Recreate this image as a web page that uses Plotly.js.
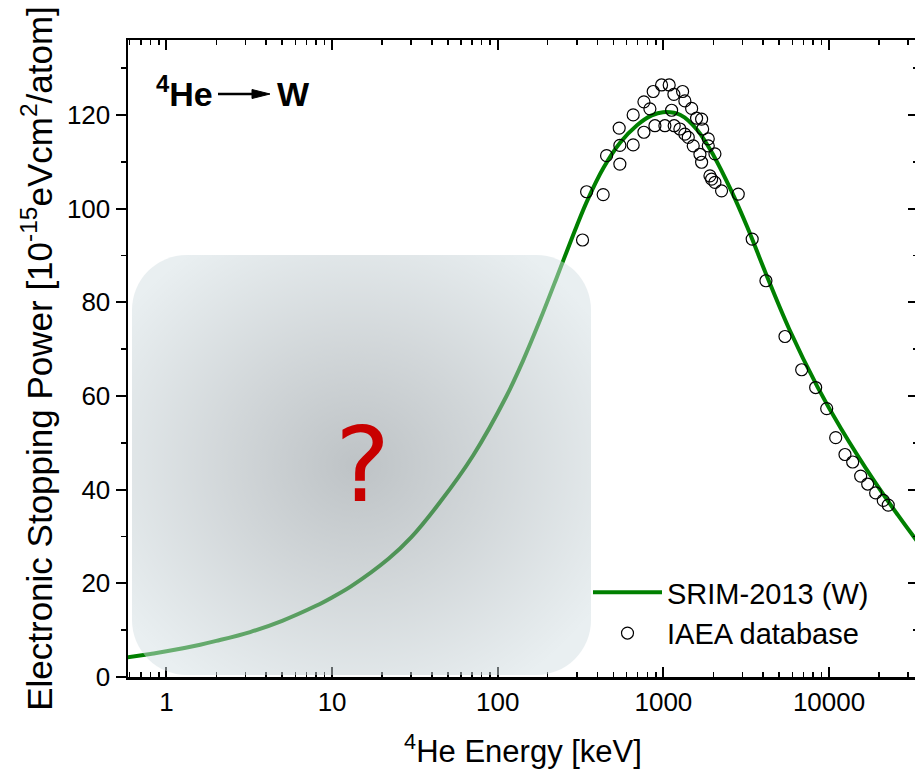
<!DOCTYPE html>
<html>
<head>
<meta charset="utf-8">
<script src="https://cdn.plot.ly/plotly-3.0.1.min.js"></script>
<style>
html,body{margin:0;padding:0;overflow:hidden;background:#fff;}
#chart{width:925px;height:769px;}
</style>
</head>
<body>
<div id="chart"></div>
<script>
// SRIM-2013 (W) electronic stopping curve
const srimEnergy = [0.58, 0.8, 1, 1.6, 2, 3.2, 5, 8, 10, 13, 22, 30, 45, 71, 113, 142, 180, 226, 260, 299, 345, 435, 549, 693, 850, 995, 1268, 1601, 2019, 2547, 3213, 4159, 5745, 8530, 11830, 18760, 26000, 36000];
const srimStopping = [4.2, 4.93, 5.48, 6.9, 7.7, 9.6, 12.0, 15.2, 17.0, 19.35, 25.3, 29.8, 37.4, 47.3, 60.0, 67.5, 76.2, 85.1, 90.7, 96.2, 101.5, 108.7, 114.1, 117.8, 119.9, 120.6, 120.0, 116.8, 111.2, 104.1, 96.0, 86.1, 74.3, 61.9, 53.0, 41.8, 34.6, 27.8];

// IAEA database points
const iaeaEnergy = [325, 344, 433, 454, 541, 546, 546, 657, 657, 763, 763, 829, 868, 889, 975, 1021, 1084, 1121, 1157, 1162, 1258, 1306, 1348, 1348, 1413, 1481, 1514, 1586, 1662, 1701, 1701, 1726, 1866, 1866, 1910, 1955, 2047, 2047, 2245, 2831, 3436, 4159, 5420, 6836, 8302, 9680, 10970, 12480, 13890, 15520, 17110, 19110, 21250, 22770];
const iaeaStopping = [93.3, 103.6, 103.0, 111.3, 117.2, 113.5, 109.5, 120.0, 113.6, 116.3, 122.8, 121.3, 125.0, 117.7, 126.4, 117.7, 126.4, 121.0, 124.4, 117.7, 117.0, 125.0, 123.0, 115.9, 115.2, 121.4, 113.4, 119.3, 111.6, 119.1, 109.9, 117.0, 114.9, 113.4, 107.0, 106.3, 111.7, 105.6, 103.8, 103.1, 93.5, 84.6, 72.7, 65.6, 61.8, 57.3, 51.1, 47.5, 45.9, 42.9, 41.2, 39.3, 37.7, 36.7];

// axis ticks
const xTickVals = [1, 10, 100, 1000, 10000];
const xTickText = ['1', '10', '100', '1000', '10000'];
const xMinorVals = [0.6, 0.7, 0.8, 0.9, 2, 3, 4, 5, 6, 7, 8, 9, 20, 30, 40, 50, 60, 70, 80, 90, 200, 300, 400, 500, 600, 700, 800, 900, 2000, 3000, 4000, 5000, 6000, 7000, 8000, 9000, 20000, 30000];
const seriesNames = ['SRIM-2013 (W)', 'IAEA database'];

const FONT = 'Arial, "Liberation Sans", sans-serif';
const PL = 128, PR = 918, PT = 40, PB = 677;
const px = v => (v - PL) / (PR - PL);
const py = v => (PB - v) / (PB - PT);

const overlaySvg =
  '<svg xmlns="http://www.w3.org/2000/svg" width="460" height="420" viewBox="0 0 460 420">' +
  '<defs><radialGradient id="g" cx="0.49" cy="0.5" r="0.62">' +
  '<stop offset="0" stop-color="rgb(126,136,142)"/>' +
  '<stop offset="0.45" stop-color="rgb(165,175,180)"/>' +
  '<stop offset="1" stop-color="rgb(212,224,228)"/>' +
  '</radialGradient></defs>' +
  '<rect x="0" y="0" width="460" height="420" rx="55" ry="55" fill="url(#g)"/></svg>';

const traces = [
  {
    x: srimEnergy, y: srimStopping, type: 'scatter', mode: 'lines',
    name: seriesNames[0],
    line: {color: '#008000', width: 4, shape: 'spline', smoothing: 1}
  },
  {
    x: iaeaEnergy, y: iaeaStopping, type: 'scatter', mode: 'markers',
    name: seriesNames[1],
    marker: {symbol: 'circle-open', size: 12, color: '#000', line: {width: 1.2, color: '#000'}}
  },
  {
    x: [], y: [], type: 'scatter', yaxis: 'y2', showlegend: false, hoverinfo: 'skip'
  }
];

const layout = {
  width: 925, height: 769,
  margin: {l: PL, r: 925 - PR, t: PT, b: 769 - PB, pad: 0},
  paper_bgcolor: '#fff', plot_bgcolor: '#fff',
  font: {family: FONT, color: '#000'},
  showlegend: true,
  legend: {
    x: px(588), y: py(567), xanchor: 'left', yanchor: 'top',
    bgcolor: 'rgba(0,0,0,0)', borderwidth: 0,
    font: {size: 29, family: FONT, color: '#000'},
    itemwidth: 69, tracegroupgap: 0
  },
  xaxis: {
    type: 'log', range: [-0.232, 4.537],
    showline: true, linecolor: '#000', linewidth: 2.5, mirror: 'ticks',
    ticks: 'inside', ticklen: 10, tickwidth: 2, tickcolor: '#000',
    tickmode: 'array', tickvals: xTickVals, ticktext: xTickText,
    tickfont: {size: 26, family: FONT, color: '#000'},
    showgrid: false, zeroline: false,
    minor: {tickmode: 'array', tickvals: xMinorVals, ticks: 'inside', ticklen: 5, tickwidth: 1.5, tickcolor: '#000', showgrid: false},
    title: {text: '<sup>4</sup>He Energy [keV]', font: {size: 31, family: FONT, color: '#000'}, standoff: 26}
  },
  yaxis: {
    range: [0, 136], tick0: 0, dtick: 20,
    showline: true, linecolor: '#000', linewidth: 2.5,
    ticks: 'outside', ticklen: 10, tickwidth: 2, tickcolor: '#000',
    tickfont: {size: 26, family: FONT, color: '#000'},
    showgrid: false, zeroline: false,
    minor: {dtick: 10, ticks: 'outside', ticklen: 5, tickwidth: 1.5, tickcolor: '#000', showgrid: false},
    title: {text: 'Electronic Stopping Power [10<sup>-15</sup>eVcm<sup>2</sup>/atom]', font: {size: 35, family: FONT, color: '#000'}, standoff: 4}
  },
  yaxis2: {
    overlaying: 'y', side: 'right', anchor: 'x',
    range: [0, 136], tick0: 0, dtick: 20,
    showline: true, linecolor: '#000', linewidth: 2.5,
    ticks: 'inside', ticklen: 10, tickwidth: 2, tickcolor: '#000',
    showticklabels: false, showgrid: false, zeroline: false,
    minor: {dtick: 10, ticks: 'inside', ticklen: 5, tickwidth: 1.5, tickcolor: '#000', showgrid: false}
  },
  images: [{
    source: 'data:image/svg+xml;charset=utf-8,' + encodeURIComponent(overlaySvg),
    xref: 'paper', yref: 'paper',
    x: px(132), y: py(255), sizex: px(591) - px(132), sizey: py(255) - py(675),
    xanchor: 'left', yanchor: 'top', sizing: 'stretch',
    opacity: 0.5, layer: 'above'
  }],
  shapes: [
    {type: 'line', xref: 'paper', yref: 'paper', x0: px(218), x1: px(256), y0: py(94), y1: py(94),
     line: {color: '#000', width: 2.5}},
    {type: 'path', xref: 'paper', yref: 'paper',
     path: 'M' + px(252) + ',' + py(89.5) + ' L' + px(270) + ',' + py(94) + ' L' + px(252) + ',' + py(98.5) + ' Z',
     fillcolor: '#000', line: {color: '#000', width: 1}}
  ],
  annotations: [
    {text: '<b><sup>4</sup>He</b>', xref: 'paper', yref: 'paper', x: px(154), y: py(92),
     xanchor: 'left', yanchor: 'middle', showarrow: false,
     font: {size: 34, family: FONT, color: '#000'}},
    {text: '<b>W</b>', xref: 'paper', yref: 'paper', x: px(275), y: py(94),
     xanchor: 'left', yanchor: 'middle', showarrow: false,
     font: {size: 34, family: FONT, color: '#000'}},
    {text: '?', xref: 'paper', yref: 'paper', x: px(362), y: py(465),
     xanchor: 'center', yanchor: 'middle', showarrow: false,
     font: {size: 104, family: '"DejaVu Sans", sans-serif', color: '#c80000'}}
  ]
};

Plotly.newPlot('chart', traces, layout, {displayModeBar: false, staticPlot: true});
</script>
</body>
</html>
